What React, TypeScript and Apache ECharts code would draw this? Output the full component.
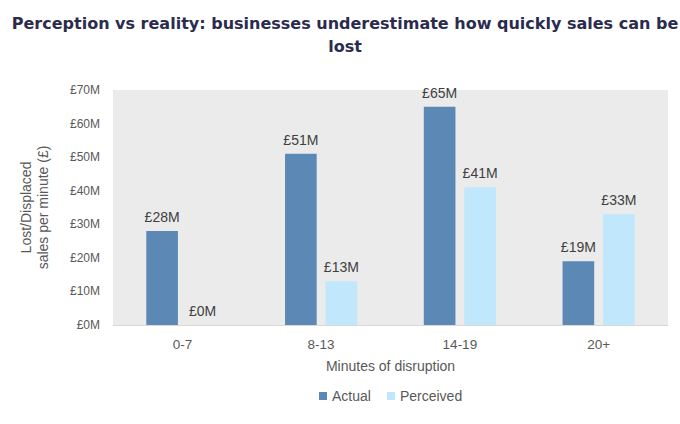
import React, { useEffect, useRef } from "react";
import * as echarts from "echarts";

const categories = ["0-7", "8-13", "14-19", "20+"];
const actual = [28, 51, 65, 19];
const perceived = [0, 13, 41, 33];
const seriesNames = ["Actual", "Perceived"];
const titleText = "Perception vs reality: businesses underestimate how quickly sales can be\nlost";
const yAxisName = "Lost/Displaced\nsales per minute (£)";
const xAxisName = "Minutes of disruption";

const FONT = "Liberation Sans, Arial, sans-serif";

export default function App() {
  const ref = useRef<HTMLDivElement>(null);
  useEffect(() => {
    if (!ref.current) return;
    const chart = echarts.init(ref.current, null, { renderer: "svg" });
    const label = {
      show: true,
      position: "top",
      distance: 7,
      color: "#404040",
      fontSize: 14,
      fontFamily: FONT,
      formatter: (p: any) => `£${p.value}M`,
    };
    chart.setOption({
      animation: false,
      backgroundColor: "#ffffff",
      title: {
        text: titleText,
        left: 340,
        top: 7,
        textAlign: "center",
        textStyle: {
          fontFamily: "DejaVu Sans, sans-serif",
          fontWeight: "bold",
          fontSize: 16,
          color: "#2b2b4e",
          lineHeight: 23,
        },
      },
      legend: {
        data: seriesNames,
        left: 314,
        top: 384,
        icon: "rect",
        itemWidth: 8,
        itemHeight: 8,
        itemGap: 16,
        textStyle: { fontFamily: FONT, fontSize: 14, color: "#595959" },
      },
      grid: {
        left: 113,
        right: 12,
        top: 90,
        bottom: 99,
        show: true,
        backgroundColor: "#ebebeb",
        borderWidth: 0,
      },
      xAxis: {
        type: "category",
        data: categories,
        name: xAxisName,
        nameLocation: "middle",
        nameGap: 34,
        nameTextStyle: { fontFamily: FONT, fontSize: 14, color: "#595959" },
        axisLine: { lineStyle: { color: "#d9d9d9" } },
        axisTick: { show: false },
        axisLabel: { margin: 12, fontFamily: FONT, fontSize: 13.5, color: "#595959" },
      },
      yAxis: {
        type: "value",
        min: 0,
        max: 70,
        interval: 10,
        name: yAxisName,
        nameLocation: "middle",
        nameGap: 62,
        nameTextStyle: { fontFamily: FONT, fontSize: 14, color: "#595959", lineHeight: 17 },
        axisLine: { show: false },
        axisTick: { show: false },
        splitLine: { show: false },
        axisLabel: {
          margin: 13,
          fontFamily: FONT,
          fontSize: 12,
          color: "#595959",
          formatter: (v: number) => `£${v}M`,
        },
      },
      series: [
        {
          name: seriesNames[0],
          type: "bar",
          data: actual,
          barGap: "28%",
          barCategoryGap: "48%",
          itemStyle: { color: "#5b88b5" },
          label,
        },
        {
          name: seriesNames[1],
          type: "bar",
          data: perceived,
          itemStyle: { color: "#c0e7fb" },
          label,
        },
      ],
    });
    return () => chart.dispose();
  }, []);
  return (
    <div
      ref={ref}
      style={{ position: "fixed", left: 0, top: 0, width: 680, height: 424 }}
    />
  );
}
